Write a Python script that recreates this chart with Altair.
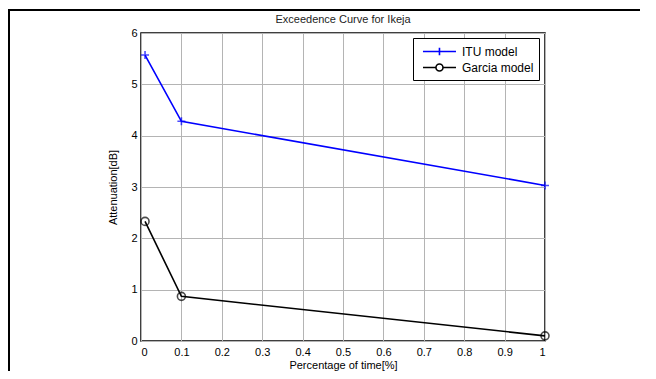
import altair as alt
import pandas as pd

pct = [0.01, 0.1, 1.0]
itu = [5.57, 4.28, 3.03]
garcia = [2.33, 0.87, 0.10]
series_names = ["ITU model", "Garcia model"]
series_colors = ["#0000ff", "#000000"]
x_ticks = [0, 0.1, 0.2, 0.3, 0.4, 0.5, 0.6, 0.7, 0.8, 0.9, 1]
y_ticks = [0, 1, 2, 3, 4, 5, 6]
title_text = "Exceedence Curve for Ikeja"

rows = []
for p, v in zip(pct, itu):
    rows.append({"pct": p, "att": v, "series": series_names[0]})
for p, v in zip(pct, garcia):
    rows.append({"pct": p, "att": v, "series": series_names[1]})
df = pd.DataFrame(rows)

FONT = "Liberation Sans"

x = alt.X("pct:Q", scale=alt.Scale(domain=[0, 1], nice=False),
          axis=alt.Axis(values=x_ticks, format="~g", title="Percentage of time[%]",
                        grid=True, gridColor="#b4b4b4", gridWidth=1, domain=False,
                        ticks=False, labelPadding=5, titlePadding=2))
y = alt.Y("att:Q", scale=alt.Scale(domain=[0, 6], nice=False),
          axis=alt.Axis(values=y_ticks, format="~g", title="Attenuation[dB]",
                        grid=True, gridColor="#b4b4b4", gridWidth=1, domain=False,
                        ticks=False, labelPadding=4, titlePadding=12))

leg = alt.Legend(title=None, orient="none", legendX=272, legendY=5,
                 strokeColor="black", fillColor="white", padding=5,
                 symbolOpacity=1, symbolStrokeWidth=1.6, symbolSize=225,
                 labelFontSize=12, labelFont=FONT, labelColor="black",
                 rowPadding=0, labelOffset=27, labelLimit=200,
                 symbolFillColor="transparent")
color = alt.Color("series:N", scale=alt.Scale(domain=series_names, range=series_colors),
                  legend=leg)

base = alt.Chart(df)

lines = base.mark_line(strokeWidth=1.6).encode(x=x, y=y, color=color, detail="series:N")

plus_pts = base.transform_filter(alt.datum.series == series_names[0]).mark_point(
    filled=False, strokeWidth=1.6, size=64, shape="M-1,0H1M0,-1V1"
).encode(x=x, y=y, color=color)

circ_pts = base.transform_filter(alt.datum.series == series_names[1]).mark_point(
    filled=False, strokeWidth=1.6, size=64, shape="circle"
).encode(x=x, y=y, color=color)

leg_paths = [
    "M-0.47,0H3.93M1.73,-0.5V0.5",
    "M-0.47,0H1.26A0.47,0.47 0 1,1 2.2,0A0.47,0.47 0 1,1 1.26,0M2.2,0H3.93",
]
legend_layer = base.mark_point(filled=False, opacity=0, size=225).encode(
    x=x, y=y, color=color,
    shape=alt.Shape("series:N", scale=alt.Scale(domain=series_names, range=leg_paths),
                    legend=leg),
)

one = pd.DataFrame({"a": [0]})
frame = alt.Chart(one).mark_rect(
    fill=None, fillOpacity=0, stroke="black", strokeWidth=2
).encode(x=alt.value(-132), x2=alt.value(800), y=alt.value(-23), y2=alt.value(600))

title = alt.Chart(one).mark_text(
    text=title_text, font=FONT, fontSize=11, color="#222222", align="center", baseline="middle"
).encode(x=alt.value(202), y=alt.value(-13))

chart = alt.layer(frame, title, lines, plus_pts, circ_pts, legend_layer).properties(
    width=404, height=308,
    autosize=alt.AutoSizeParams(type="none"),
    padding={"left": 133, "top": 25, "right": 95, "bottom": 30},
).configure_view(stroke="black", strokeWidth=1.5).configure_axis(
    labelFont=FONT, titleFont=FONT, labelFontSize=11, titleFontSize=11,
    labelColor="black", titleColor="black", titleFontWeight="normal"
)

chart.save("out.html", embed_options={"renderer": "svg", "actions": False})
